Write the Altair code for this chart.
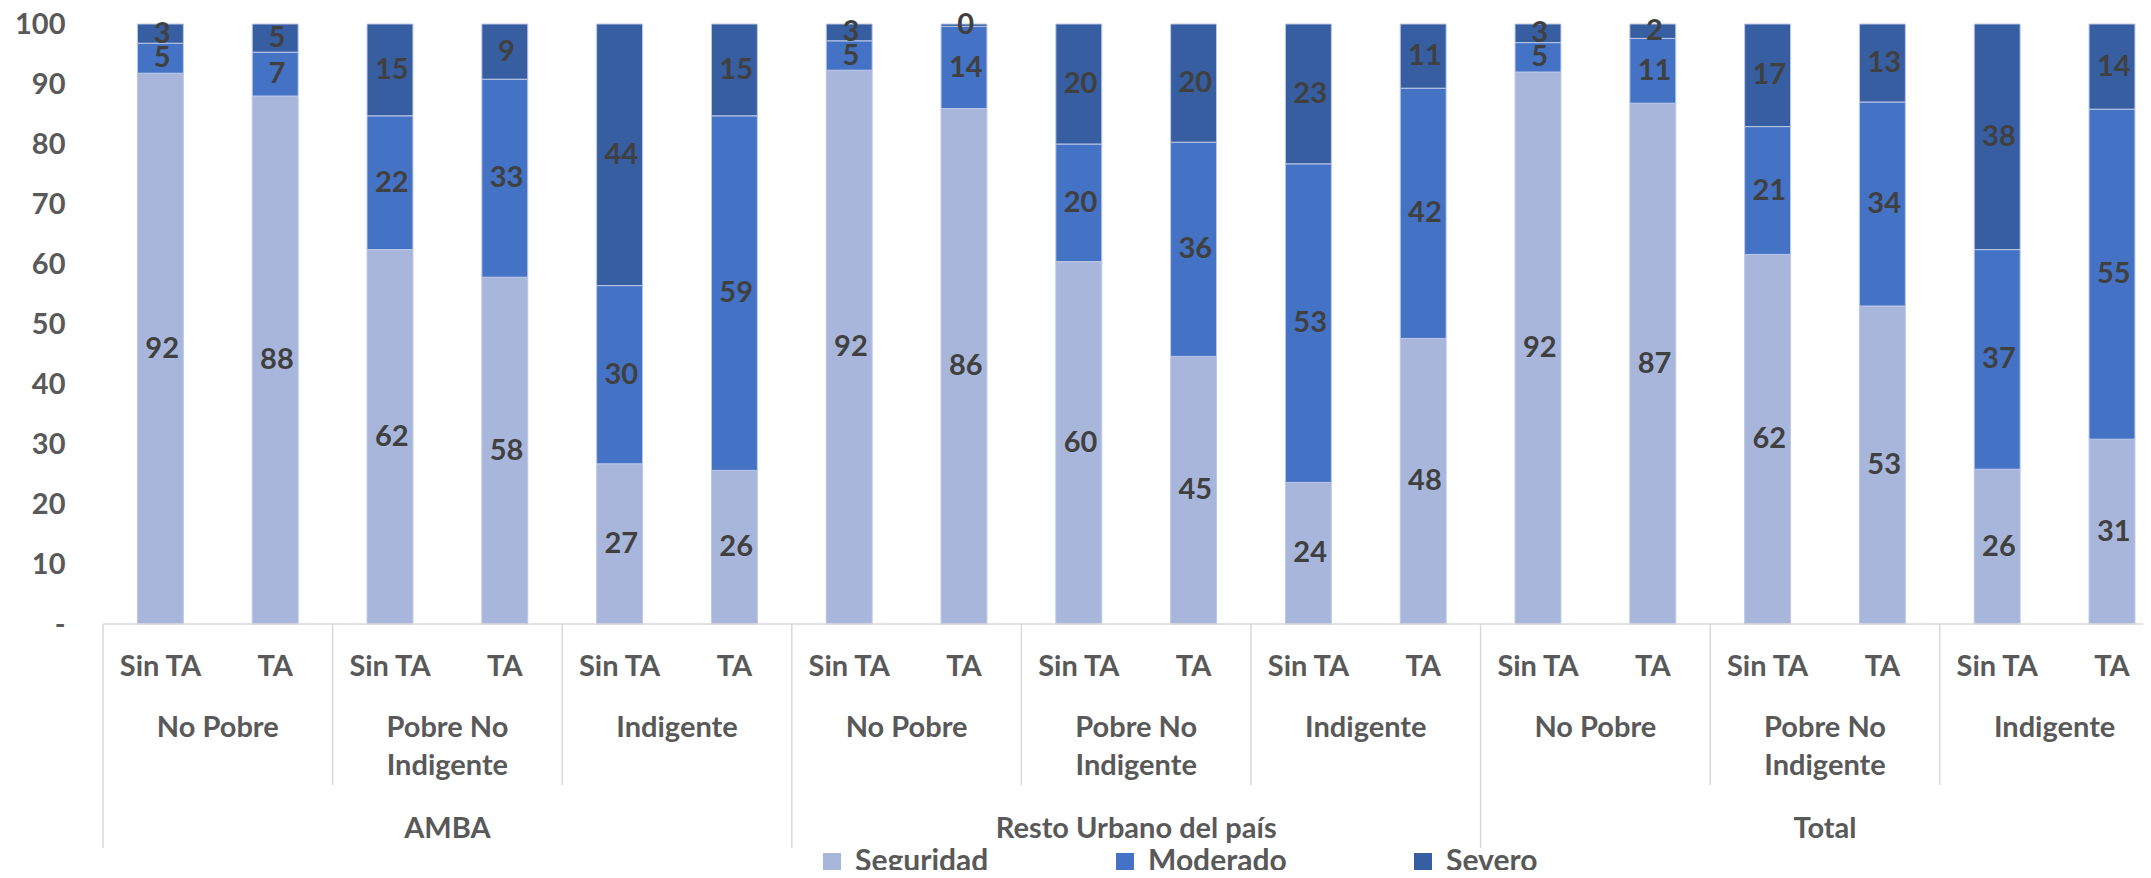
import altair as alt
import pandas as pd

# ---------------- data ----------------
regions = ["AMBA", "Resto Urbano del país", "Total"]
groups_line1 = ["No Pobre", "Pobre No", "Indigente"]
groups_line2 = ["", "Indigente", ""]
conditions = ["Sin TA", "TA"]
series = ["Seguridad", "Moderado", "Severo"]
colors = ["#A9B6DB", "#4472C4", "#365EA0"]

# order of bars: region -> group -> condition
seguridad = [91.8, 88.0, 62.4, 57.8, 26.7, 25.6,
             92.3, 85.9, 60.4, 44.6, 23.6, 47.6,
             92.0, 86.8, 61.6, 53.0, 25.8, 30.8]
moderado = [5.0, 7.3, 22.3, 33.0, 29.7, 59.1,
            4.9, 13.7, 19.6, 35.7, 53.1, 41.7,
            4.9, 10.8, 21.3, 34.0, 36.6, 55.0]
severo = [3.2, 4.7, 15.3, 9.2, 43.6, 15.3,
          2.8, 0.4, 20.0, 19.7, 23.3, 10.7,
          3.1, 2.4, 17.1, 13.0, 37.6, 14.2]

values = {"Seguridad": seguridad, "Moderado": moderado, "Severo": severo}

n_cond = len(conditions)
n_grp = len(groups_line1)
n_bars = len(regions) * n_grp * n_cond

rows = []
for i in range(n_bars):
    for k, s in enumerate(series):
        rows.append({"idx": i, "series": s, "ord": k, "value": values[s][i]})
df = pd.DataFrame(rows)

cond_df = pd.DataFrame({"idx": list(range(n_bars)),
                        "label": [conditions[i % n_cond] for i in range(n_bars)]})
grp_df = pd.DataFrame({
    "pos": [n_cond * j + n_cond / 2 for j in range(len(regions) * n_grp)],
    "l1": [groups_line1[j % n_grp] for j in range(len(regions) * n_grp)],
    "l2": [groups_line2[j % n_grp] for j in range(len(regions) * n_grp)],
})
reg_df = pd.DataFrame({
    "pos": [n_cond * n_grp * r + n_cond * n_grp / 2 for r in range(len(regions))],
    "label": regions,
})
reg_bounds = pd.DataFrame({"b": [n_cond * n_grp * r for r in range(len(regions) + 1)]})
grp_bounds = pd.DataFrame({"b": [n_cond * j for j in range(len(regions) * n_grp)
                                 if j % n_grp != 0]})

# ---------------- layout ----------------
FONT = "Lato"
FS = 29
PLOT_W = 2040
STEP = 114.8
xscale = alt.Scale(domain=[0, PLOT_W / STEP], nice=False, zero=False)
yscale = alt.Scale(domain=[0, 100], nice=False)

base = alt.Chart(df).transform_stack(
    stack="value", groupby=["idx"], as_=["v0", "v1"],
    sort=[alt.SortField("ord", order="ascending")]
).transform_calculate(
    x0="datum.idx + 0.3", x1="datum.idx + 0.7", xc="datum.idx + 0.515",
    mid="(datum.v0 + datum.v1) / 2"
)

yaxis = alt.Axis(
    values=list(range(0, 101, 10)), title=None, ticks=False, tickSize=0,
    domain=False, grid=False, labelPadding=38,
    labelFont=FONT, labelFontSize=FS, labelFontWeight="bold", labelColor="#595959",
    labelExpr="datum.value == 0 ? '-\u00a0\u00a0\u00a0\u00a0' : datum.label",
)

bars = base.mark_bar(stroke="#BCC8E8", strokeWidth=1).encode(
    x=alt.X("x0:Q", scale=xscale, axis=None),
    x2="x1:Q",
    y=alt.Y("v0:Q", scale=yscale, axis=yaxis),
    y2="v1:Q",
    color=alt.Color(
        "series:N",
        scale=alt.Scale(domain=series, range=colors),
        legend=alt.Legend(
            title=None, orient="none", legendX=714, legendY=823,
            direction="horizontal", columns=3, symbolType="square",
            symbolSize=324, symbolStrokeWidth=0, labelFont=FONT,
            labelFontSize=30, labelFontWeight="bold", labelColor="#595959",
            labelOffset=8, gridAlign="each", columnPadding=121, padding=0,
        ),
    ),
)

vlabels = base.mark_text(font=FONT, fontSize=FS, fontWeight="bold",
                         color="#404040", baseline="middle").encode(
    x=alt.X("xc:Q", scale=xscale),
    y=alt.Y("mid:Q", scale=yscale),
    text=alt.Text("value:Q", format=".0f"),
)

baseline = alt.Chart(pd.DataFrame({"v": [0]})).mark_rule(
    color="#D9D9D9", strokeWidth=1.5).encode(y=alt.Y("v:Q", scale=yscale))

reg_rules = alt.Chart(reg_bounds).mark_rule(color="#D9D9D9", strokeWidth=1.5).encode(
    x=alt.X("b:Q", scale=xscale), y=alt.value(600), y2=alt.value(824))
grp_rules = alt.Chart(grp_bounds).mark_rule(color="#D9D9D9", strokeWidth=1.5).encode(
    x=alt.X("b:Q", scale=xscale), y=alt.value(600), y2=alt.value(761))

txt = dict(font=FONT, fontSize=FS, fontWeight="bold", color="#595959",
           baseline="middle", align="center")

cond_text = alt.Chart(cond_df).transform_calculate(c="datum.idx + 0.5").mark_text(**txt).encode(
    x=alt.X("c:Q", scale=xscale), y=alt.value(643), text="label:N")
grp_text1 = alt.Chart(grp_df).mark_text(**txt).encode(
    x=alt.X("pos:Q", scale=xscale), y=alt.value(704), text="l1:N")
grp_text2 = alt.Chart(grp_df).mark_text(**txt).encode(
    x=alt.X("pos:Q", scale=xscale), y=alt.value(742), text="l2:N")
reg_text = alt.Chart(reg_df).mark_text(**txt).encode(
    x=alt.X("pos:Q", scale=xscale), y=alt.value(805), text="label:N")

chart = alt.layer(
    bars, vlabels, baseline, reg_rules, grp_rules,
    cond_text, grp_text1, grp_text2, reg_text,
).properties(
    width=PLOT_W, height=600,
    padding={"left": 95, "top": 16, "right": 0, "bottom": 246},
    autosize=alt.AutoSizeParams(type="none"),
).configure_view(stroke=None)

chart.save("out.html", embed_options={"renderer": "svg", "actions": False})
